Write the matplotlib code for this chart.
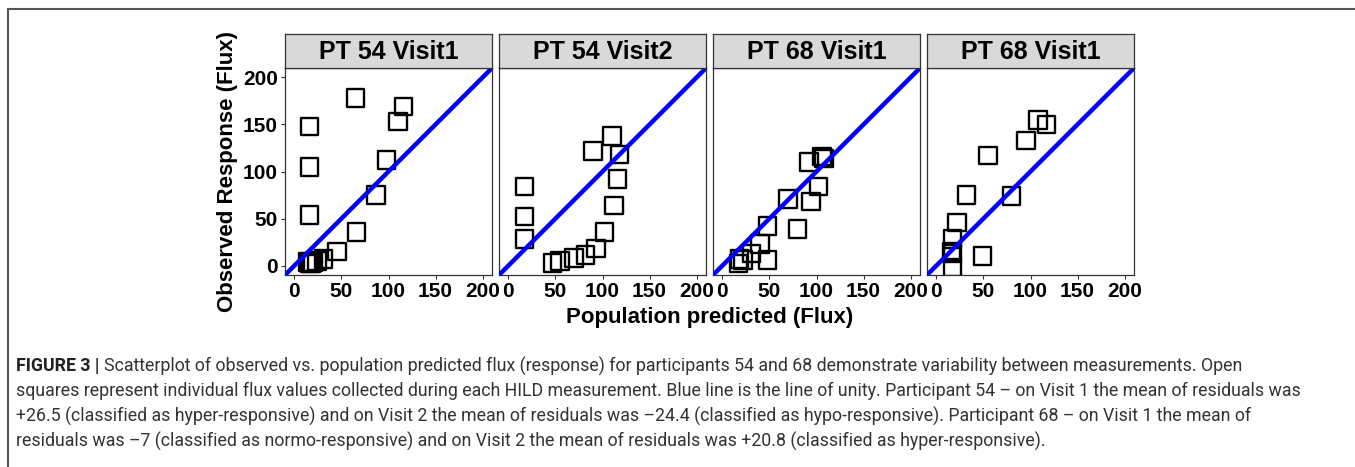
import matplotlib
matplotlib.use('Agg')
import matplotlib.pyplot as plt
from matplotlib.patches import Rectangle

# ── Data ──
panel_titles = ["PT 54 Visit1", "PT 54 Visit2", "PT 68 Visit1", "PT 68 Visit1"]

pt54_v1_pred = [65, 116, 110, 16, 16, 98, 87, 16, 66, 45, 31, 24, 16, 18, 14, 20]
pt54_v1_obs = [178, 169, 153, 148, 105, 112, 75, 54, 36, 15, 7, 5, 3, 2, 4, 4]

pt54_v2_pred = [17, 17, 17, 110, 90, 118, 116, 112, 102, 93, 82, 70, 55, 47]
pt54_v2_obs = [84, 52, 28, 138, 122, 118, 92, 64, 36, 18, 11, 8, 5, 3]

pt68_v1_pred = [108, 106, 92, 102, 70, 94, 48, 80, 40, 31, 48, 18, 17, 22]
pt68_v1_obs = [114, 116, 110, 84, 71, 68, 42, 39, 23, 13, 6, 7, 2, 6]

pt68_v2_pred = [108, 117, 95, 55, 32, 80, 22, 17, 16, 17, 49, 17]
pt68_v2_obs = [155, 150, 133, 117, 75, 74, 46, 28, 15, 13, 10, -2]

pred = [pt54_v1_pred, pt54_v2_pred, pt68_v1_pred, pt68_v2_pred]
obs = [pt54_v1_obs, pt54_v2_obs, pt68_v1_obs, pt68_v2_obs]

ticks = [0, 50, 100, 150, 200]
lims = (-10, 210)

caption_lines = [
    "Scatterplot of observed vs. population predicted flux (response) for participants 54 and 68 demonstrate variability between measurements. Open",
    "squares represent individual flux values collected during each HILD measurement. Blue line is the line of unity. Participant 54 \u2013 on Visit 1 the mean of residuals was",
    "+26.5 (classified as hyper-responsive) and on Visit 2 the mean of residuals was \u201324.4 (classified as hypo-responsive). Participant 68 \u2013 on Visit 1 the mean of",
    "residuals was \u20137 (classified as normo-responsive) and on Visit 2 the mean of residuals was +20.8 (classified as hyper-responsive).",
]

W, H = 1355, 467
plt.rcParams['font.family'] = ['Liberation Sans', 'DejaVu Sans']
fig = plt.figure(figsize=(W / 100, H / 100), dpi=100)

# outer frame of the figure box
fig.patches.append(Rectangle((8 / W, -0.1), 1.2, 1 - 9 / H + 0.1,
                             transform=fig.transFigure, fill=False,
                             edgecolor="#555555", linewidth=1.5))

lefts = [285, 499, 713, 927]
pw = 207
top, bottom, strip_top = 68, 275, 34

for i, left in enumerate(lefts):
    ax = fig.add_axes([left / W, 1 - bottom / H, pw / W, (bottom - top) / H])
    ax.plot(lims, lims, color="#0000FF", linewidth=3.2, zorder=3,
            solid_capstyle="butt")
    ax.scatter(pred[i], obs[i], marker="s", s=160, facecolors="none",
               edgecolors="black", linewidths=1.7, zorder=2)
    ax.set_xlim(lims)
    ax.set_ylim(lims)
    ax.set_xticks(ticks)
    ax.set_yticks(ticks)
    ax.tick_params(labelsize=15, length=3, width=0.8, colors="#333333",
                   labelcolor="black", pad=2)
    for lab in ax.get_xticklabels() + ax.get_yticklabels():
        lab.set_fontweight("bold")
    if i > 0:
        ax.tick_params(axis="y", left=False, labelleft=False)
    for sp in ax.spines.values():
        sp.set_color("#333333")
        sp.set_linewidth(0.9)

    sax = fig.add_axes([left / W, 1 - top / H, pw / W, (top - strip_top) / H])
    sax.set_facecolor("#D9D9D9")
    sax.set_xticks([])
    sax.set_yticks([])
    for sp in sax.spines.values():
        sp.set_color("#333333")
        sp.set_linewidth(0.9)
    sax.text(0.5, 0.47, panel_titles[i], ha="center", va="center",
             fontsize=18, fontweight="bold", transform=sax.transAxes)

fig.text(227 / W, 1 - 172 / H, "Observed Response (Flux)", rotation=90,
         ha="center", va="center", fontsize=16, fontweight="bold")
fig.text(710 / W, 1 - 317 / H, "Population predicted (Flux)",
         ha="center", va="center", fontsize=16, fontweight="bold")

# ── Caption ──
cap_font = ['Liberation Sans Narrow', 'Roboto', 'DejaVu Sans']
ys = [366, 391, 416, 441]
t = fig.text(16 / W, 1 - ys[0] / H, "FIGURE 3 | ", ha="left", va="center",
             fontsize=12.75, fontweight="bold", color="#222222", family=cap_font)
fig.canvas.draw()
bb = t.get_window_extent()
fig.text(bb.x1 / W, 1 - ys[0] / H, caption_lines[0], ha="left", va="center",
         fontsize=12.75, color="#333333", family=cap_font)
for y, line in zip(ys[1:], caption_lines[1:]):
    fig.text(16 / W, 1 - y / H, line, ha="left", va="center",
             fontsize=12.75, color="#333333", family=cap_font)

plt.savefig("out.png", dpi=100)
plt.close()
